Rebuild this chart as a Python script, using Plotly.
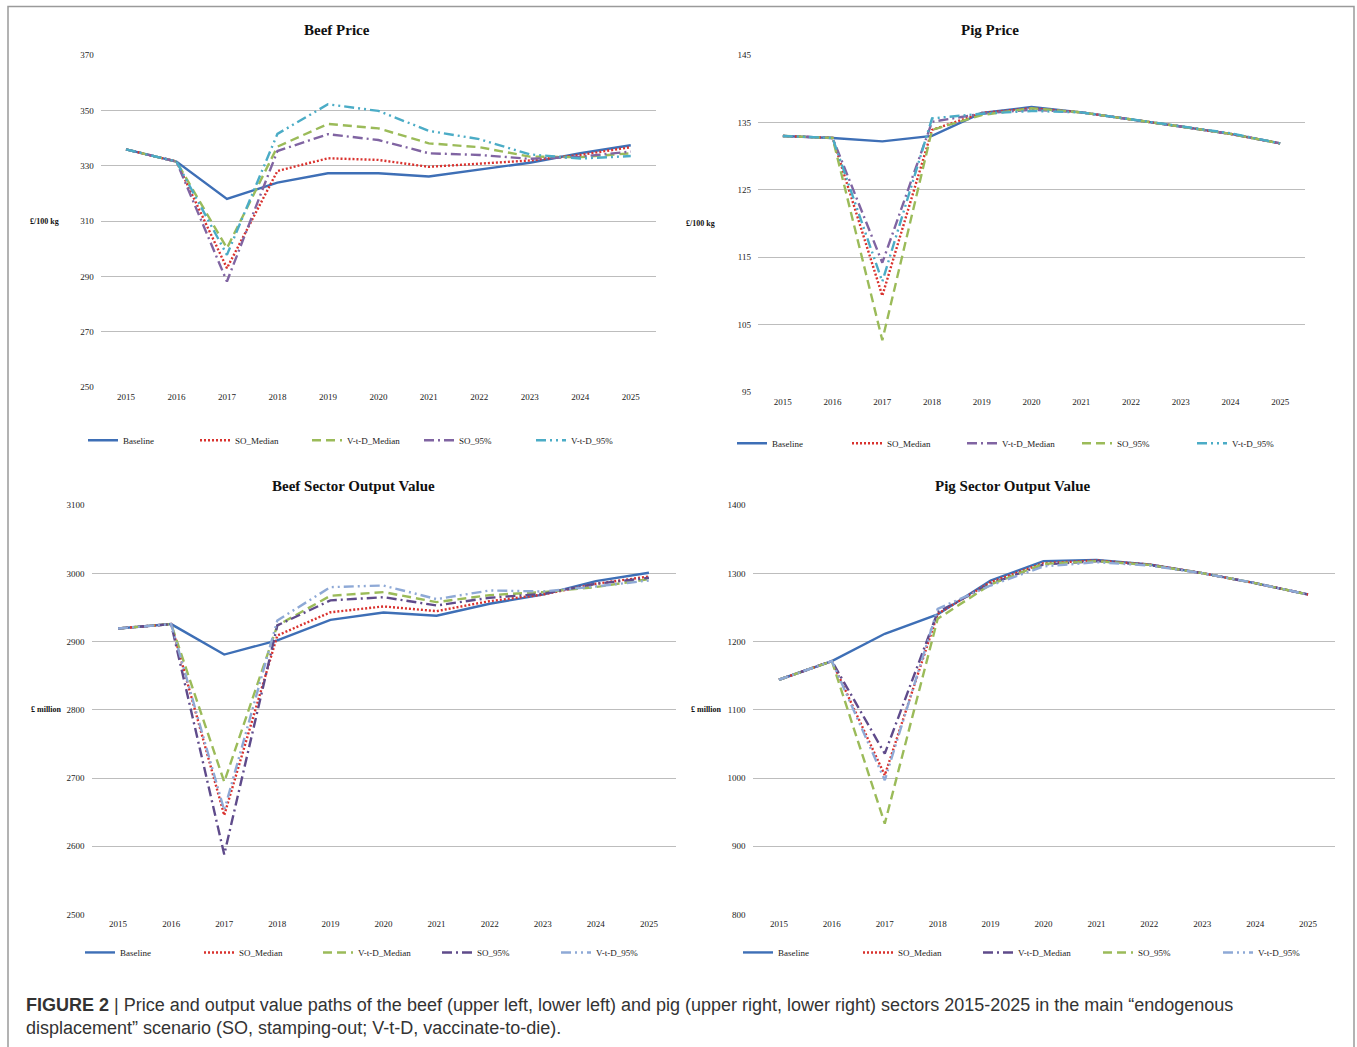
import plotly.graph_objects as go

years = [2015, 2016, 2017, 2018, 2019, 2020, 2021, 2022, 2023, 2024, 2025]
year_labels = [str(y) for y in years]

# Beef Price (GBP/100 kg)
beef_price_baseline = [335.9, 331.5, 318.0, 323.9, 327.3, 327.3, 326.1, 328.5, 331.1, 334.5, 337.4]
beef_price_so_median = [335.9, 331.5, 293.0, 328.1, 332.7, 332.1, 329.6, 330.7, 331.9, 333.9, 336.7]
beef_price_vtd_median = [335.9, 331.5, 300.2, 336.9, 345.1, 343.5, 338.1, 336.7, 333.3, 333.1, 334.5]
beef_price_so_95 = [335.9, 331.5, 288.2, 335.3, 341.4, 339.3, 334.5, 333.9, 332.5, 333.3, 335.1]
beef_price_vtd_95 = [335.9, 331.5, 297.8, 341.5, 352.2, 349.8, 342.6, 339.6, 334.1, 332.6, 333.5]

# Pig Price (GBP/100 kg)
pig_price_baseline = [133.0, 132.7, 132.2, 133.0, 136.4, 137.3, 136.5, 135.5, 134.4, 133.3, 131.9]
pig_price_so_median = [133.0, 132.7, 109.3, 133.9, 136.4, 137.1, 136.5, 135.5, 134.4, 133.3, 131.9]
pig_price_vtd_median = [133.0, 132.7, 114.2, 135.1, 136.3, 136.9, 136.5, 135.5, 134.4, 133.3, 131.9]
pig_price_so_95 = [133.0, 132.7, 102.7, 133.9, 136.1, 137.1, 136.5, 135.5, 134.4, 133.3, 131.9]
pig_price_vtd_95 = [133.0, 132.7, 111.4, 135.6, 136.3, 136.7, 136.5, 135.5, 134.4, 133.4, 131.9]

# Beef Sector Output Value (GBP million)
beef_out_baseline = [2919.3, 2925.7, 2881.0, 2901.8, 2932.0, 2942.8, 2937.9, 2955.5, 2969.0, 2988.7, 3000.9]
beef_out_so_median = [2919.3, 2925.7, 2645.4, 2909.0, 2943.0, 2951.6, 2944.7, 2959.4, 2969.0, 2984.8, 2995.5]
beef_out_vtd_median = [2919.3, 2925.7, 2694.3, 2923.7, 2967.2, 2972.6, 2957.9, 2968.2, 2972.6, 2980.0, 2991.6]
beef_out_so_95 = [2919.3, 2925.7, 2587.8, 2923.7, 2960.4, 2965.2, 2953.0, 2964.3, 2970.1, 2984.8, 2993.6]
beef_out_vtd_95 = [2919.3, 2925.7, 2652.7, 2931.0, 2979.9, 2982.3, 2962.3, 2975.0, 2973.5, 2980.9, 2989.7]

# Pig Sector Output Value (GBP million)
pig_out_baseline = [1144.1, 1171.5, 1211.5, 1239.8, 1289.6, 1318.0, 1319.9, 1313.1, 1300.4, 1285.7, 1269.1]
pig_out_so_median = [1144.1, 1171.5, 1004.0, 1240.8, 1287.2, 1315.0, 1319.0, 1313.1, 1300.4, 1285.7, 1269.1]
pig_out_vtd_median = [1144.1, 1171.5, 1035.7, 1243.3, 1284.8, 1313.1, 1318.0, 1312.5, 1300.4, 1285.7, 1269.1]
pig_out_so_95 = [1144.1, 1171.5, 933.2, 1233.5, 1283.8, 1314.0, 1318.0, 1312.5, 1300.4, 1285.7, 1269.1]
pig_out_vtd_95 = [1144.1, 1171.5, 996.7, 1248.1, 1282.3, 1310.2, 1316.5, 1311.5, 1300.4, 1285.7, 1269.1]

W, H = 1357, 1047

def px_x(p):
    return p / W

def px_y(p):
    q = (p - 5.0) / 0.99
    return 1 - q / H

BLUE = "#3E6FB6"
RED = "#D9322E"
GREEN = "#9BBB59"
PURPLE = "#8064A2"
CYAN = "#4BACC6"
DPURPLE = "#5F4B8B"
LBLUE = "#8EA9D6"

SOLID = "solid"
DOT = "2px,2px"
DASH = "9px,5px"
LDASHDOT = "10px,4px,2px,4px"
LDASHDOTDOT = "10px,4px,2px,4px,2px,4px"

SERIF = "Liberation Serif"

fig = go.Figure()

panels = [
    dict(ax="", leg="legend", title="Beef Price", ylab="£/100 kg", tx=337, ty=30, lx=61,
         rng=[250, 370], dt=20, xd=[100.75, 656], yd=[387, 55], legy=440, legx=83, ew=67,
         series=[("Baseline", beef_price_baseline, BLUE, SOLID),
                 ("SO_Median", beef_price_so_median, RED, DOT),
                 ("V-t-D_Median", beef_price_vtd_median, GREEN, DASH),
                 ("SO_95%", beef_price_so_95, PURPLE, LDASHDOT),
                 ("V-t-D_95%", beef_price_vtd_95, CYAN, LDASHDOTDOT)]),
    dict(ax="2", leg="legend2", title="Pig Price", ylab="£/100 kg", tx=990, ty=30, lx=717,
         rng=[95, 145], dt=10, xd=[758, 1305], yd=[392, 55], legy=443, legx=732, ew=70,
         series=[("Baseline", pig_price_baseline, BLUE, SOLID),
                 ("SO_Median", pig_price_so_median, RED, DOT),
                 ("V-t-D_Median", pig_price_vtd_median, PURPLE, LDASHDOT),
                 ("SO_95%", pig_price_so_95, GREEN, DASH),
                 ("V-t-D_95%", pig_price_vtd_95, CYAN, LDASHDOTDOT)]),
    dict(ax="3", leg="legend3", title="Beef Sector Output Value", ylab="£ million", tx=353, ty=486, lx=64,
         rng=[2500, 3100], dt=100, xd=[91.5, 675.5], yd=[914, 505], legy=952, legx=80, ew=74,
         series=[("Baseline", beef_out_baseline, BLUE, SOLID),
                 ("SO_Median", beef_out_so_median, RED, DOT),
                 ("V-t-D_Median", beef_out_vtd_median, GREEN, DASH),
                 ("SO_95%", beef_out_so_95, DPURPLE, LDASHDOT),
                 ("V-t-D_95%", beef_out_vtd_95, LBLUE, LDASHDOTDOT)]),
    dict(ax="4", leg="legend4", title="Pig Sector Output Value", ylab="£ million", tx=1013, ty=486, lx=724,
         rng=[800, 1400], dt=100, xd=[752.5, 1334.5], yd=[914, 505], legy=952, legx=738, ew=75,
         series=[("Baseline", pig_out_baseline, BLUE, SOLID),
                 ("SO_Median", pig_out_so_median, RED, DOT),
                 ("V-t-D_Median", pig_out_vtd_median, DPURPLE, LDASHDOT),
                 ("SO_95%", pig_out_so_95, GREEN, DASH),
                 ("V-t-D_95%", pig_out_vtd_95, LBLUE, LDASHDOTDOT)]),
]

annotations = []
layout_extra = {}
for p in panels:
    xa = "x" + p["ax"]
    ya = "y" + p["ax"]
    for name, vals, col, dash in p["series"]:
        fig.add_trace(go.Scatter(
            x=years, y=vals, name=name, mode="lines",
            line=dict(color=col, width=2.4, dash=dash),
            xaxis=xa, yaxis=ya, legend=p["leg"], showlegend=True,
        ))
    xkey = "xaxis" + p["ax"]
    ykey = "yaxis" + p["ax"]
    layout_extra[xkey] = dict(
        domain=[px_x(p["xd"][0]), px_x(p["xd"][1])],
        range=[2014.5, 2025.5], tickmode="array", tickvals=years, ticktext=year_labels,
        showgrid=False, zeroline=False, showline=False, ticks="", ticklabelstandoff=3,
        tickfont=dict(family=SERIF, size=9, color="#222"), anchor=ya, fixedrange=True,
    )
    layout_extra[ykey] = dict(
        domain=[px_y(p["yd"][0]), px_y(p["yd"][1])],
        range=p["rng"], dtick=p["dt"], tick0=p["rng"][0],
        showgrid=True, gridcolor="#BDBDBD", gridwidth=1.3,
        zeroline=False, showline=False, ticks="", ticklabelstandoff=6,
        tickfont=dict(family=SERIF, size=9, color="#222"), anchor=xa, fixedrange=True,
    )
    layout_extra[p["leg"]] = dict(
        orientation="h", x=px_x(p["legx"]), y=px_y(p["legy"]),
        xanchor="left", yanchor="middle", bgcolor="rgba(0,0,0,0)",
        font=dict(family=SERIF, size=9, color="#222"),
        itemwidth=30, entrywidth=p["ew"], tracegroupgap=0,
    )
    annotations.append(dict(
        text="<b>" + p["title"] + "</b>", x=px_x(p["tx"]), y=px_y(p["ty"]),
        xref="paper", yref="paper", showarrow=False, xanchor="center", yanchor="middle",
        font=dict(family=SERIF, size=15, color="#111"),
    ))
    ymid = (p["yd"][0] + p["yd"][1]) / 2
    annotations.append(dict(
        text="<b>" + p["ylab"] + "</b>", x=px_x(p["lx"]), y=px_y(ymid),
        xref="paper", yref="paper", showarrow=False, xanchor="right", yanchor="middle",
        font=dict(family=SERIF, size=8, color="#111"),
    ))

annotations.append(dict(
    text="<b>FIGURE 2</b> | Price and output value paths of the beef (upper left, lower left) and pig (upper right, lower right) sectors 2015-2025 in the main “endogenous"
         "<br>displacement” scenario (SO, stamping-out; V-t-D, vaccinate-to-die).",
    x=px_x(24), y=px_y(1016), xref="paper", yref="paper", showarrow=False,
    xanchor="left", yanchor="middle", align="left",
    font=dict(family="Liberation Sans", size=18, color="#333"),
))

fig.update_layout(
    width=W, height=H, margin=dict(l=0, r=0, t=0, b=0),
    paper_bgcolor="white", plot_bgcolor="white",
    annotations=annotations,
    shapes=[dict(type="rect", xref="paper", yref="paper",
                 x0=px_x(8), x1=px_x(1354), y0=px_y(1070), y1=px_y(6.5),
                 line=dict(color="#9A9A9A", width=1.5), fillcolor="rgba(0,0,0,0)")],
    **layout_extra,
)

fig.write_html("out.html", config={"displayModeBar": False},
               post_script="document.body.style.margin='0px';document.body.style.overflow='hidden';")
